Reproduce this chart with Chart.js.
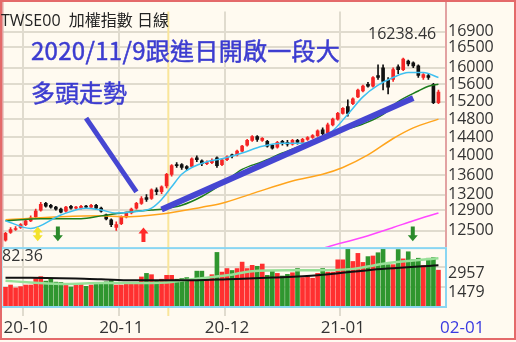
<!DOCTYPE html>
<html>
<head>
<meta charset="utf-8">
<script src="https://cdn.jsdelivr.net/npm/chart.js@4.4.0/dist/chart.umd.min.js"></script>
<style>
  html, body { margin: 0; padding: 0; background: #fffaf0; }
  #wrap { position: relative; width: 516px; height: 342px; overflow: hidden; background: #fffaf0; }
  #wrap canvas { position: absolute; left: 0; top: 0; }
  .t { position: absolute; white-space: pre; font-family: "Open Sans", "Noto Sans CJK TC", sans-serif; font-size: 16px; line-height: 16px; color: #333; }
  .note { position: absolute; white-space: pre; font-family: "Noto Sans CJK TC", sans-serif; font-size: 24px; line-height: 24px; color: #3c3cd0; -webkit-text-stroke: 0.5px #3c3cd0; }
</style>
</head>
<body>
<div id="wrap">
  <canvas id="chart" width="516" height="342"></canvas>
  <div class="t" style="left:1px; top:12px; color:#222;">TWSE00  加權指數 日線</div>
  <div class="note" style="left:31px; top:38px; letter-spacing:0.3px;">2020/11/9跟進日開啟一段大</div>
  <div class="note" style="left:31px; top:80px;">多頭走勢</div>
  <div class="t" style="left:368px; top:25px;">16238.46</div>
  <div class="t" style="left:2px; top:247px;">82.36</div>
  <div class="t" style="left:440px; top:318px; font-size:17px; line-height:17px; color:#3a3ae0;">02-01</div>
</div>
<script>
// trading days shown
const sepDays = [25, 28, 29, 30];
const octDays = [5, 6, 7, 8, 12, 13, 14, 15, 16, 19, 20, 21, 22, 23, 26, 27, 28, 29, 30];
const novDays = [2, 3, 4, 5, 6, 9, 10, 11, 12, 13, 16, 17, 18, 19, 20, 23, 24, 25, 26, 27, 30];
const decDays = [1, 2, 3, 4, 7, 8, 9, 10, 11, 14, 15, 16, 17, 18, 21, 22, 23, 24, 25, 28, 29, 30, 31];
const janDays = [4, 5, 6, 7, 8, 11, 12, 13, 14, 15, 18, 19, 20, 21, 22, 25, 26, 27, 28, 29];

// daily candles (index points)
const openP = [12324,12469,12524,12561,12616,12690,12765,12897,13030,12992,12954,12916,12878,12973,12935,12935,12973,12954,12992,12935,
  12803,12709,12561,12635,12765,12840,12935,13030,13145,13126,13300,13261,13379,13616,13817,13817,13777,13777,13960,13899,
  13838,13858,13960,13817,13919,14021,14021,14104,14229,14334,14418,14334,14313,14229,14187,14313,14292,14250,14334,14292,
  14355,14397,14439,14567,14503,14674,14804,14934,15088,15155,15311,15447,15606,15561,15814,16000,15698,15721,16024,15954,
  16166,16118,16047,15767,15814,15606,15178];
const highP = [12469,12561,12579,12635,12728,12784,12916,13049,13049,13011,12973,12935,12973,12992,12973,12992,12992,13011,13011,12954,
  12821,12728,12672,12784,12859,12935,13049,13165,13203,13320,13340,13379,13636,13817,13858,13838,13797,13960,14001,13919,
  13899,13940,13980,13940,14001,14042,14125,14229,14355,14439,14439,14397,14334,14250,14313,14334,14334,14355,14355,14376,
  14418,14460,14567,14609,14717,14825,14956,15066,15244,15289,15492,15584,15652,15790,16071,16071,15767,16000,16071,16238.46,
  16189,16142,16071,15860,15860,15629,15470];
const lowP = [12305,12451,12506,12543,12598,12672,12747,12878,12954,12935,12897,12840,12859,12916,12916,12916,12935,12935,12916,12859,
  12709,12579,12506,12616,12747,12821,12916,13011,13068,13107,13203,13222,13340,13576,13757,13717,13697,13757,13878,13797,
  13817,13838,13757,13797,13899,13960,14001,14083,14208,14313,14313,14313,14187,14146,14166,14229,14208,14229,14250,14271,
  14334,14376,14418,14460,14481,14652,14782,14912,14869,15133,15289,15424,15538,15538,15721,15470,15379,15675,15860,15930,
  16047,16000,15767,15721,15721,15155,15155];
const closeP = [12451,12524,12543,12616,12690,12747,12878,13011,12973,12954,12916,12859,12954,12935,12954,12973,12954,12992,12935,12878,
  12728,12616,12616,12765,12840,12916,13030,13126,13107,13300,13261,13359,13616,13797,13797,13757,13737,13940,13919,13838,
  13858,13899,13797,13919,13980,14001,14104,14208,14334,14418,14355,14376,14208,14166,14292,14271,14250,14334,14292,14355,
  14397,14439,14545,14481,14674,14804,14934,15044,14934,15267,15470,15561,15561,15767,15767,15675,15538,15954,15954,16213,
  16095,16047,15814,15837,15767,15178,15424];

// turnover (volume pane)
const volume = [1427,1601,1380,1478,1601,1601,2093,2242,1897,2044,1823,1798,1601,1453,1675,1724,1502,1601,1650,1724,
  1847,1946,1601,1601,1724,1724,1724,2217,2488,2390,1897,2044,2340,2340,2044,2094,2168,2044,2660,2660,
  2044,2390,4088,2587,2858,2710,2858,3350,2858,3104,3030,3202,2340,2710,2488,2291,2414,2537,2858,2168,
  2242,2119,2488,2858,2587,2587,3523,3523,4360,3399,4015,3326,3769,3818,4065,4360,3153,3153,4311,3596,
  4138,3523,3646,3079,3646,3695,2734];

// moving average lines: [bar index, value]
const maCyan = [[0,12691],[5,12543],[11,12803],[16,12935],[19,12898],[22,12841],[25,12860],[29,12935],[31,13107],[33,13360],
  [35,13616],[37,13757],[40,13878],[43,13939],[47,14062],[51,14207],[55,14270],[59,14270],[62,14375],[65,14545],[68,14912],
  [71,15311],[74,15583],[77,15767],[80,15883],[83,15883],[86,15767]];
const maGreen = [[0,12691],[7,12729],[15,12729],[19,12785],[23,12841],[29,12898],[31,12916],[35,12992],[39,13165],[43,13418],
  [47,13716],[51,13878],[55,14062],[59,14228],[66,14524],[71,14695],[75,14912],[78,15200],[82,15447],[84,15560],[86,15606]];
const maOrange = [[0,12710],[11,12766],[19,12785],[23,12766],[31,12822],[39,12954],[43,13031],[49,13223],[57,13478],[63,13616],
  [67,13757],[72,14021],[77,14375],[81,14609],[86,14803]];
const maPink = [[0,11604],[14,11640],[32,11760],[43,11898],[54,12020],[62,12144],[64,12199],[71,12379],[77,12561],[81,12691],[86,12841]];
const volMaBlack = [[0,2165],[5,2165],[19,2044],[25,1970],[32,1970],[38,1970],[44,2044],[53,2168],[62,2340],[72,2734],[86,3104]];
const volMaGreen = [[0,1921],[5,1799],[12,1675],[19,1750],[25,1750],[32,1799],[37,2044],[44,2340],[49,2660],[56,2734],[62,2734],
  [69,2833],[76,3276],[86,3646]];

// hand-drawn blue trend strokes
const trendLong = [[31,12910],[81,15285]];
const trendShort = [[16,14825],[26,13258]];

// axes
const priceTicks = [16900, 16500, 16000, 15600, 15200, 14800, 14400, 14000, 13600, 13200, 12900, 12500];
const volTicks = [2957, 1479];
const monthTickIdx = [4, 23, 44, 67];
const monthTickText = ['20-10', '20-11', '20-12', '21-01'];

// arrows under the candles
const arrows = [
  { at: 6.4, top: 12579, bottom: 12305, color: '#f3e22c', kind: 'both' },
  { at: 10.4, top: 12579, bottom: 12305, color: '#2b8a2b', kind: 'down' },
  { at: 27.4, top: 12561, bottom: 12287, color: '#ff2a2a', kind: 'up' },
  { at: 80.9, top: 12579, bottom: 12305, color: '#2b8a2b', kind: 'down' }
];
const markerAt = 32.34;

const pad = d => (d < 10 ? '0' : '') + d;
const dates = [].concat(
  sepDays.map(d => '2020-09-' + pad(d)), octDays.map(d => '2020-10-' + pad(d)),
  novDays.map(d => '2020-11-' + pad(d)), decDays.map(d => '2020-12-' + pad(d)),
  janDays.map(d => '2021-01-' + pad(d)));
const labels = dates.concat(['']);

function spread(pts) {
  const arr = new Array(dates.length).fill(null);
  pts.forEach(([i, v]) => { arr[i] = v; });
  return arr;
}

const GRID = '#e0dbce';
const up = closeP.map((c, k) => c >= openP[k]);
const candleColor = up.map(u => (u ? '#f52525' : '#111111'));
const volColor = up.map(u => (u ? '#ff3030' : '#2f962f'));

function lineSet(pts, color, width, axis, order, tension) {
  return {
    type: 'line', data: spread(pts), borderColor: color, borderWidth: width, pointRadius: 0,
    spanGaps: true, tension: tension, cubicInterpolationMode: tension ? 'monotone' : 'default',
    yAxisID: axis, order: order, fill: false
  };
}

function drawArrow(ctx, x, y1, y2, kind, color) {
  const hw = 5, sw = 2, hl = 6;
  ctx.fillStyle = color;
  ctx.beginPath();
  if (kind === 'down') {
    ctx.moveTo(x - sw, y1); ctx.lineTo(x + sw, y1); ctx.lineTo(x + sw, y2 - hl); ctx.lineTo(x + hw, y2 - hl);
    ctx.lineTo(x, y2); ctx.lineTo(x - hw, y2 - hl); ctx.lineTo(x - sw, y2 - hl);
  } else if (kind === 'up') {
    ctx.moveTo(x, y1); ctx.lineTo(x + hw, y1 + hl); ctx.lineTo(x + sw, y1 + hl); ctx.lineTo(x + sw, y2);
    ctx.lineTo(x - sw, y2); ctx.lineTo(x - sw, y1 + hl); ctx.lineTo(x - hw, y1 + hl);
  } else {
    ctx.moveTo(x, y1); ctx.lineTo(x + hw, y1 + hl); ctx.lineTo(x + sw, y1 + hl); ctx.lineTo(x + sw, y2 - hl);
    ctx.lineTo(x + hw, y2 - hl); ctx.lineTo(x, y2); ctx.lineTo(x - hw, y2 - hl); ctx.lineTo(x - sw, y2 - hl);
    ctx.lineTo(x - sw, y1 + hl); ctx.lineTo(x - hw, y1 + hl);
  }
  ctx.closePath();
  ctx.fill();
}

const decor = {
  id: 'decor',
  beforeDraw(chart) {
    const ctx = chart.ctx;
    ctx.save();
    ctx.fillStyle = '#fffaf0';
    ctx.fillRect(0, 0, chart.width, chart.height);
    ctx.restore();
  },
  beforeDatasetsDraw(chart) {
    const ctx = chart.ctx, xs = chart.scales.x, a = chart.chartArea;
    const x = xs.getPixelForValue(markerAt);
    ctx.save();
    ctx.strokeStyle = '#f9e59a';
    ctx.lineWidth = 2;
    ctx.beginPath();
    ctx.moveTo(x, a.top);
    ctx.lineTo(x, a.bottom + 10);
    ctx.stroke();
    ctx.restore();
  },
  afterDatasetsDraw(chart) {
    const ctx = chart.ctx, xs = chart.scales.x, ys = chart.scales.y;
    ctx.save();
    arrows.forEach(m => {
      drawArrow(ctx, xs.getPixelForValue(m.at), ys.getPixelForValue(m.top), ys.getPixelForValue(m.bottom), m.kind, m.color);
    });
    ctx.restore();
  },
  afterDraw(chart) {
    const ctx = chart.ctx, ys = chart.scales.y, yv = chart.scales.yv, a = chart.chartArea;
    ctx.save();
    ctx.lineWidth = 2;
    ctx.strokeStyle = '#e2a2a2';
    ctx.beginPath();
    ctx.moveTo(2.5, 0); ctx.lineTo(2.5, ys.bottom);
    ctx.moveTo(a.right, 0); ctx.lineTo(a.right, ys.bottom);
    ctx.stroke();
    ctx.strokeStyle = '#8ad6f2';
    ctx.strokeRect(1.5, yv.top + 1, a.right - 1.5, yv.bottom - yv.top);
    ctx.strokeStyle = '#e46a6a';
    ctx.strokeRect(1, 1, 514, 338);
    ctx.restore();
  }
};

new Chart(document.getElementById('chart'), {
  type: 'bar',
  data: {
    labels: labels,
    datasets: [
      lineSet(trendLong, '#4646d2', 6, 'y', 0, 0),
      lineSet(trendShort, '#4646d2', 5, 'y', 0, 0),
      lineSet(maCyan, '#3fc0f0', 1.5, 'y', 1, 0.4),
      lineSet(maGreen, '#1c7c1c', 1.5, 'y', 1, 0.4),
      lineSet(maOrange, '#ffa41c', 1.5, 'y', 1, 0.4),
      { type: 'bar', data: openP.map((o, k) => [o, closeP[k]]), backgroundColor: candleColor, barThickness: 3,
        minBarLength: 1, grouped: false, yAxisID: 'y', order: 2 },
      { type: 'bar', data: lowP.map((l, k) => [l, highP[k]]), backgroundColor: candleColor, barThickness: 1,
        grouped: false, yAxisID: 'y', order: 3 },
      lineSet(volMaBlack, '#111111', 2, 'yv', 4, 0.4),
      lineSet(volMaGreen, '#98e098', 2.5, 'yv', 4, 0.4),
      lineSet(maPink, '#ff48ff', 1.5, 'y', 5, 0.4),
      { type: 'bar', data: volume, backgroundColor: volColor, barThickness: 4, grouped: false, yAxisID: 'yv', order: 6 }
    ]
  },
  options: {
    responsive: false,
    animation: false,
    events: [],
    layout: { padding: { left: 3, top: 2, right: 0, bottom: 0 } },
    plugins: { legend: { display: false }, tooltip: { enabled: false } },
    scales: {
      x: {
        grid: {
          offset: true, lineWidth: 2, tickLength: 10, drawTicks: true,
          color: c => (monthTickIdx.includes(c.index) ? GRID : 'rgba(0,0,0,0)')
        },
        border: { display: false },
        ticks: {
          autoSkip: false, maxRotation: 0, minRotation: 0, padding: 2, color: '#333',
          font: { family: 'Open Sans', size: 17 },
          callback: (v, i) => { const k = monthTickIdx.indexOf(i); return k >= 0 ? monthTickText[k] : ''; }
        },
        afterFit: s => { s.height = 36; }
      },
      y: {
        type: 'logarithmic', position: 'right', stack: 'panes', stackWeight: 4,
        min: 12194, max: 17421, bounds: 'data',
        afterBuildTicks: s => { s.ticks = priceTicks.map(v => ({ value: v })); },
        afterFit: s => { s.width = 70; },
        grid: { color: GRID, lineWidth: 2, drawTicks: false },
        border: { display: false },
        ticks: { autoSkip: false, padding: 2, color: '#333', font: { family: 'Open Sans', size: 16 }, callback: v => String(v) }
      },
      yv: {
        type: 'linear', position: 'right', stack: 'panes', stackWeight: 1,
        min: 0, max: 4493, bounds: 'data',
        afterBuildTicks: s => { s.ticks = volTicks.map(v => ({ value: v })); },
        afterFit: s => { s.width = 70; },
        grid: { color: GRID, lineWidth: 2, drawTicks: false },
        border: { display: false },
        ticks: { autoSkip: false, padding: 2, labelOffset: 6, color: '#333', font: { family: 'Open Sans', size: 16 }, callback: v => String(v) }
      }
    }
  },
  plugins: [decor]
});
</script>
</body>
</html>
